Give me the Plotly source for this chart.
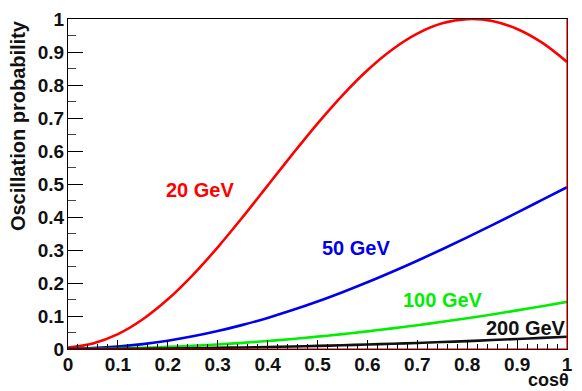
import plotly.graph_objects as go

# cos(theta) sampling points
cos_theta = [0.0, 0.05, 0.10, 0.15, 0.20, 0.25, 0.30, 0.35, 0.40, 0.45, 0.50,
             0.55, 0.60, 0.65, 0.70, 0.75, 0.80, 0.85, 0.90, 0.95, 1.00]

# Oscillation probability for each neutrino energy
p_20gev = [0.0044, 0.0170, 0.0452, 0.0902, 0.1505, 0.2241, 0.3081, 0.3996, 0.4949, 0.5907, 0.6831,
           0.7688, 0.8448, 0.9078, 0.9557, 0.9868, 0.9996, 0.9939, 0.9697, 0.9283, 0.8700]
p_50gev = [0.0007, 0.0027, 0.0073, 0.0148, 0.0252, 0.0384, 0.0544, 0.0731, 0.0943, 0.1180, 0.1439,
           0.1721, 0.2021, 0.2340, 0.2675, 0.3023, 0.3385, 0.3754, 0.4133, 0.4517, 0.4904]
p_100gev = [0.0002, 0.0007, 0.0018, 0.0037, 0.0063, 0.0097, 0.0138, 0.0186, 0.0242, 0.0305, 0.0375,
            0.0451, 0.0535, 0.0624, 0.0721, 0.0824, 0.0933, 0.1048, 0.1170, 0.1297, 0.1430]
p_200gev = [0.0000, 0.0002, 0.0005, 0.0009, 0.0016, 0.0024, 0.0035, 0.0047, 0.0061, 0.0077, 0.0094,
            0.0114, 0.0135, 0.0159, 0.0184, 0.0211, 0.0240, 0.0271, 0.0303, 0.0337, 0.0372]

labels = ["20 GeV", "50 GeV", "100 GeV", "200 GeV"]
colors = ["#ff0000", "#0000ee", "#00ee00", "#111111"]
series = [p_20gev, p_50gev, p_100gev, p_200gev]
# label anchor points in data coordinates
label_pos = [(0.265, 0.482), (0.578, 0.307), (0.752, 0.15), (0.918, 0.065)]

FONT = "Liberation Sans, Arial, sans-serif"

fig = go.Figure()
for ys, col in zip(series, colors):
    fig.add_trace(go.Scatter(x=cos_theta, y=ys, mode="lines",
                             line=dict(color=col, width=2.6, shape="spline"),
                             showlegend=False, hoverinfo="skip"))

for (lx, ly), text, col in zip(label_pos, labels, colors):
    fig.add_annotation(x=lx, y=ly, text=text, showarrow=False,
                       font=dict(family=FONT, size=20, color=col, weight="bold"))

axis_common = dict(range=[0, 1], showgrid=False, zeroline=False,
                   showline=True, linecolor="black", linewidth=1.2, mirror=True,
                   ticks="inside", tickcolor="black", tickwidth=1,
                   ticklabeloverflow="allow",
                   tickfont=dict(family=FONT, size=19, color="#111111", weight="bold"))

fig.update_xaxes(**axis_common, dtick=0.1, tick0=0, ticklen=9,
                 ticklabelstandoff=-2,
                 minor=dict(dtick=0.02, ticks="inside", ticklen=4.5, tickcolor="black"))
fig.update_yaxes(**axis_common, dtick=0.1, tick0=0, ticklen=15,
                 ticklabelstandoff=-1,
                 minor=dict(dtick=0.05, ticks="inside", ticklen=7.5, tickcolor="#444444"))

# axis titles, aligned to the far ends of their axes
fig.add_annotation(xref="paper", yref="paper", x=1.008, y=-0.094, xanchor="right", yanchor="middle",
                   text="cosθ", showarrow=False,
                   font=dict(family=FONT, size=18, color="#111111", weight="bold"))
fig.add_annotation(xref="paper", yref="paper", x=-0.101, y=1.003, xanchor="center", yanchor="top",
                   text="Oscillation probability", textangle=-90, showarrow=False,
                   font=dict(family=FONT, size=20, color="#111111", weight="bold"))

# red frame edges on the right and bottom
fig.add_shape(type="line", xref="paper", yref="paper", x0=1, x1=1, y0=0, y1=1,
              line=dict(color="#dd0000", width=1.2))
fig.add_shape(type="line", xref="paper", yref="paper", x0=0, x1=1, y0=0, y1=0,
              line=dict(color="#aa0000", width=1.2))

fig.update_layout(width=582, height=391, margin=dict(l=68, r=9, t=9, b=42),
                  paper_bgcolor="white", plot_bgcolor="white")

fig.write_html("out.html")
